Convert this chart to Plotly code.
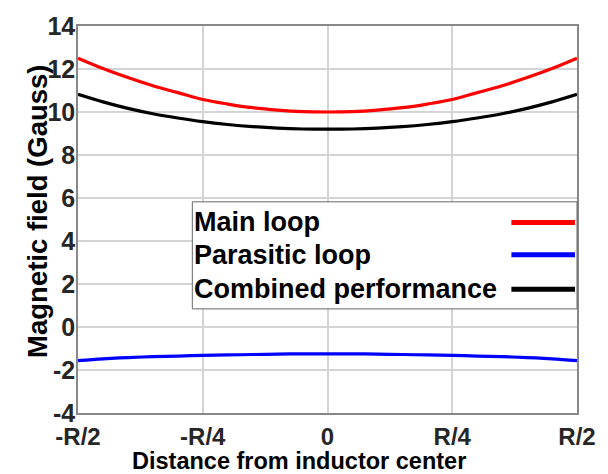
import plotly.graph_objects as go

# Data
x_pos = [-0.5, -0.45, -0.4, -0.35, -0.3, -0.25, -0.2, -0.15, -0.1, -0.05, 0.0,
         0.05, 0.1, 0.15, 0.2, 0.25, 0.3, 0.35, 0.4, 0.45, 0.5]
main_loop = [12.5, 12.02, 11.6, 11.22, 10.9, 10.58, 10.37, 10.2, 10.09, 10.02, 10.0,
             10.02, 10.09, 10.2, 10.37, 10.58, 10.9, 11.22, 11.6, 12.02, 12.5]
parasitic_loop = [-1.56, -1.48, -1.42, -1.38, -1.35, -1.32, -1.3, -1.28, -1.26, -1.25, -1.25,
                  -1.25, -1.26, -1.28, -1.3, -1.32, -1.35, -1.38, -1.42, -1.48, -1.56]
combined = [10.82, 10.47, 10.17, 9.92, 9.72, 9.55, 9.42, 9.32, 9.25, 9.21, 9.2,
            9.21, 9.25, 9.32, 9.42, 9.55, 9.72, 9.92, 10.17, 10.47, 10.82]
x_tickvals = [-0.5, -0.25, 0, 0.25, 0.5]
x_ticktext = ["-R/2", "-R/4", "0", "R/4", "R/2"]
y_tickvals = [-4, -2, 0, 2, 4, 6, 8, 10, 12, 14]
y_ticktext = ["-4", "-2", "0", "2", "4", "6", "8", "10", "12", "14"]
series_names = ["Main loop", "Parasitic loop", "Combined performance"]
series_colors = ["#ff0000", "#0000ff", "#000000"]
x_title = "Distance from inductor center"
y_title = "Magnetic field (Gauss)"

FONT = "Liberation Sans"
L, R, T, B = 78, 580, 19, 413  # plot-area pixel edges
W, H = R - L, B - T

def px(x):
    return (x - L) / W

def py(y):
    return (B - y) / H

fig = go.Figure()
for name, ys, col in zip(series_names, [main_loop, parasitic_loop, combined], series_colors):
    fig.add_trace(go.Scatter(x=x_pos, y=ys, mode="lines", name=name,
                             line=dict(color=col, width=3.2, shape="spline"),
                             showlegend=False))

# Manual legend (text left, line sample right)
shapes = [dict(type="rect", xref="paper", yref="paper", x0=px(193), x1=1.0,
               y0=py(307), y1=py(198),
               line=dict(color="#666666", width=1), fillcolor="white", layer="above")]
annotations = []
rows_y = [219, 252, 287]
for name, col, ry in zip(series_names, series_colors, rows_y):
    annotations.append(dict(xref="paper", yref="paper", x=px(193), y=py(ry), text=name,
                            showarrow=False, xanchor="left", yanchor="middle",
                            font=dict(family=FONT, size=27, color="black", weight="bold")))
    shapes.append(dict(type="line", xref="paper", yref="paper",
                       x0=px(514), x1=px(578), y0=py(ry), y1=py(ry),
                       line=dict(color=col, width=5), layer="above"))

# Axis titles as annotations (positioned as in the reference)
annotations.append(dict(xref="paper", yref="paper", x=px(300), y=py(462), text=x_title,
                        showarrow=False, xanchor="center", yanchor="middle",
                        font=dict(family=FONT, size=23.5, color="black", weight="bold")))
annotations.append(dict(xref="paper", yref="paper", x=px(37), y=py(208), text=y_title,
                        showarrow=False, xanchor="center", yanchor="middle", textangle=-90,
                        font=dict(family=FONT, size=27.5, color="black", weight="bold")))

fig.update_layout(
    width=608, height=474,
    margin=dict(l=L, r=608 - R, t=T, b=474 - B),
    paper_bgcolor="white", plot_bgcolor="white",
    font=dict(family=FONT, size=20, color="#262626"),
    shapes=shapes, annotations=annotations,
    xaxis=dict(range=[-0.5, 0.5], tickvals=x_tickvals, ticktext=x_ticktext,
               showgrid=True, gridcolor="#d4d4d4", gridwidth=1.5,
               showline=True, linecolor="#888888", linewidth=1.5, mirror=True,
               zeroline=False, ticks="", ticklabelstandoff=1,
               tickfont=dict(family=FONT, size=24, color="#262626", weight="bold")),
    yaxis=dict(range=[-4, 14], tickvals=y_tickvals, ticktext=y_ticktext,
               showgrid=True, gridcolor="#d4d4d4", gridwidth=1.5,
               showline=True, linecolor="#888888", linewidth=1.5, mirror=True,
               zeroline=False, ticks="", ticklabelstandoff=-4,
               tickfont=dict(family=FONT, size=25, color="#262626", weight="bold")),
)

fig.write_html("out.html")
